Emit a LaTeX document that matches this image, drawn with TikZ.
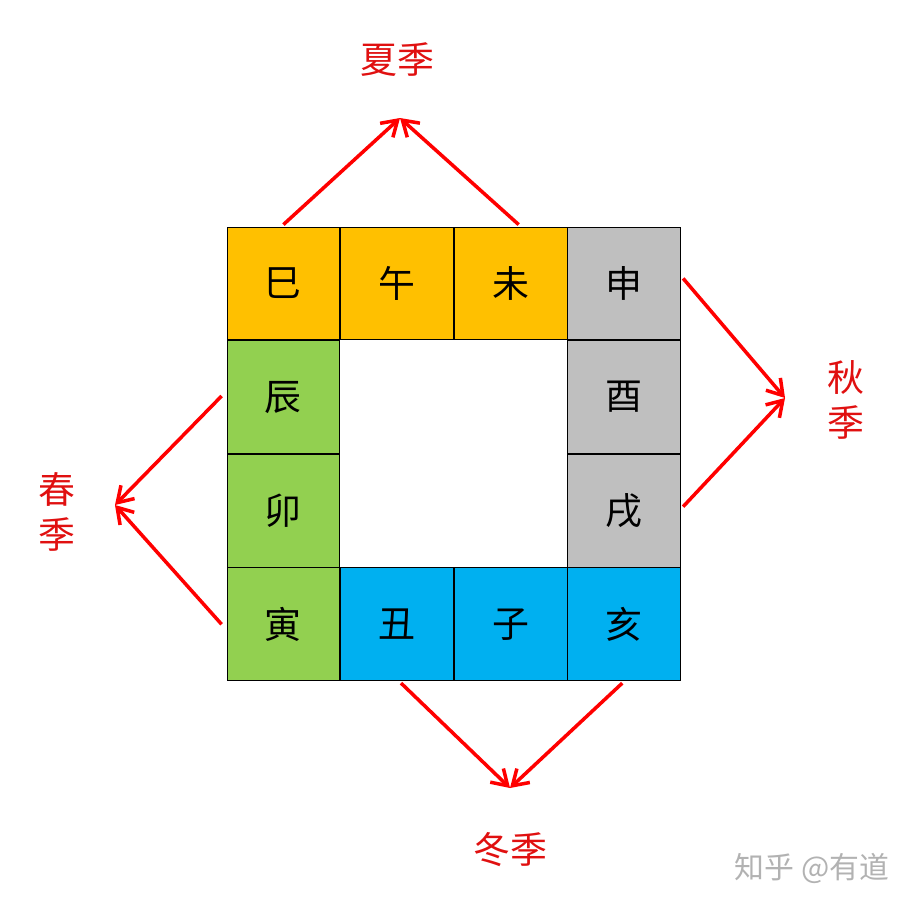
\documentclass[tikz,border=0pt]{standalone}
\usepackage{fontspec}
\setmainfont{Noto Sans CJK SC}
\usetikzlibrary{positioning,arrows.meta}
\definecolor{summer}{HTML}{FFC000}
\definecolor{spring}{HTML}{92D050}
\definecolor{autumn}{HTML}{BFBFBF}
\definecolor{winter}{HTML}{00B0F0}
\definecolor{lbl}{HTML}{E01010}
\begin{document}
\begin{tikzpicture}[x=0.2mm, y=-0.2mm, node distance=0pt,
  cell/.style = {draw, line width=0.5pt, minimum size=22.55mm, inner sep=0pt, font=\fontsize{21}{21}\selectfont},
  season/.style = {text=lbl, font=\fontsize{21}{26}\selectfont, align=center},
  arr/.style = {draw=red, line width=2pt, -{Straight Barb[length=3mm, width=3.8mm]}}]
      \useasboundingbox (0,0) rectangle (906,906);
      %% top row
      \node[cell, fill=summer] (si) at (283.4,283.4) {巳};
      \node[cell, fill=summer] (wu) [right =of si] {午};
      \node[cell, fill=summer] (wei) [right =of wu] {未};
      \node[cell, fill=autumn] (shen) [right =of wei] {申};
      %% right column
      \node[cell, fill=autumn] (you) [below =of shen] {酉};
      \node[cell, fill=autumn] (xu) [below =of you] {戌};
      \node[cell, fill=winter] (hai) [below =of xu] {亥};
      %% bottom row
      \node[cell, fill=winter] (zi) [left =of hai] {子};
      \node[cell, fill=winter] (chou) [left =of zi] {丑};
      \node[cell, fill=spring] (yin) [left =of chou] {寅};
      %% left column
      \node[cell, fill=spring] (mao) [above =of yin] {卯};
      \node[cell, fill=spring] (chen) [above =of mao] {辰};
      %% apexes
      \coordinate (xia) at (400,118);
      \coordinate (qiu) at (785,398);
      \coordinate (dong) at (510,788);
      \coordinate (chun) at (115,505);
      \draw[arr] ([yshift=0.4mm]si.north) -- (xia);
      \draw[arr] ([xshift=1.6mm,yshift=0.4mm]wei.north) -- (xia);
      \draw[arr] ([xshift=0.4mm,yshift=1mm]shen.east) -- (qiu);
      \draw[arr] ([xshift=0.4mm,yshift=0.8mm]xu.east) -- (qiu);
      \draw[arr] ([xshift=0.8mm,yshift=-0.4mm]chou.south) -- (dong);
      \draw[arr] ([xshift=-0.4mm,yshift=-0.4mm]hai.south) -- (dong);
      \draw[arr] ([xshift=-1mm,yshift=0.2mm]chen.west) -- (chun);
      \draw[arr] ([xshift=-1mm,yshift=0mm]yin.west) -- (chun);
      %% labels
      \node[season] (lxia) at (397,60) {夏季};
      \node[season] (lqiu) at (846,400) {秋\\季};
      \node[season] (ldong) at (510,850) {冬季};
      \node[season] (lchun) at (57,512) {春\\季};
      \node[text=black!30, font=\fontsize{17}{17}\selectfont] (mark) at (812,868) {知乎 @有道};
\end{tikzpicture}
\end{document}
